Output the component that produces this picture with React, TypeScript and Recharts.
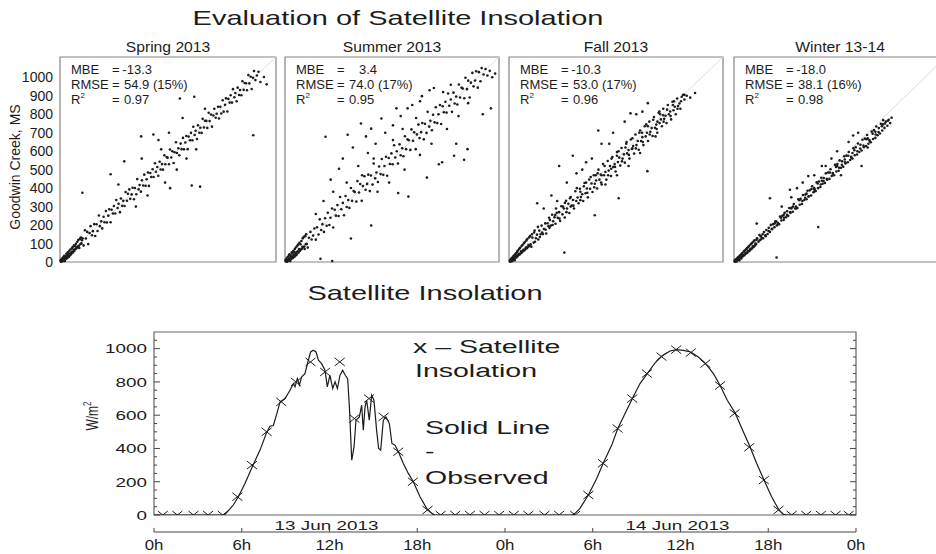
import React from 'react';
import {
  ScatterChart,
  Scatter,
  XAxis,
  YAxis,
  ReferenceArea,
  ReferenceLine,
  ComposedChart,
  Line,
} from 'recharts';

const FONT = '"Liberation Sans", Arial, Helvetica, sans-serif';
const INK = '#1c1c1c';
const STRETCH = 1.45;

type P = [number, number];

// ---- top row: satellite (x) vs Goodwin Creek ground (y), W/m2 ----
const panelTitles = ['Spring 2013', 'Summer 2013', 'Fall 2013', 'Winter 13-14'];
const mbeVals = ['-13.3', '3.4', '-10.3', '-18.0'];
const rmseVals = ['54.9 (15%)', '74.0 (17%)', '53.0 (17%)', '38.1 (16%)'];
const r2Vals = ['0.97', '0.95', '0.96', '0.98'];
const scatterTicks = [0, 100, 200, 300, 400, 500, 600, 700, 800, 900, 1000];

const springPts: P[] = [
  [3,9],[5,2],[7,14],[9,6],[11,3],[13,22],[14,11],[16,8],[18,27],[20,13],[22,34],[23,19],[25,6],[27,31],[29,24],[31,17],[33,45],[35,28],[36,40],[38,21],[40,52],[42,33],[44,47],[46,29],[48,60],[50,41],[52,37],[54,68],[56,49],[58,43],[61,74],[63,55],[65,81],[67,52],[70,66],[72,90],[74,61],[77,85],[79,70],[82,98],[84,73],[87,80],[89,110],[92,84],[94,119],[97,88],[99,76],[102,125],[105,97],[107,132],[110,101],[113,118],
  [116,128],[121,90],[128,172],[133,127],[140,163],[145,97],[152,157],[157,194],[164,145],[169,167],[176,205],[181,141],[188,204],[193,168],[200,252],[205,194],[212,220],[217,182],[224,245],[229,215],[236,276],[241,214],[248,251],[253,286],[260,215],[265,283],[272,263],[277,303],[284,263],[289,336],[296,292],[301,315],[308,270],[313,344],[320,304],[325,331],[332,303],[337,379],[344,332],[349,369],[356,393],[361,342],[368,366],[373,402],[380,340],[385,401],[392,367],[397,449],[404,393],[409,417],[416,381],[421,442],[428,414],[433,473],[440,413],[445,448],[452,485],[457,412],[464,482],[469,460],[476,502],[481,460],[488,535],[493,489],[500,514],[505,467],[512,543],[517,501],[524,530],[529,500],[536,578],[541,529],[548,568],[553,565],[560,529],[565,609],[572,566],[577,600],[584,536],[589,594],[596,648],[601,590],[608,616],[613,578],[620,641],[625,611],[632,672],[637,610],[644,647],[649,682],[656,611],[661,679],[668,659],[673,699],[680,659],[685,732],[692,688],[697,711],[704,666],[709,740],[716,700],[721,727],[728,699],[733,775],[740,728],[745,765],[752,764],[757,726],[764,808],[769,763],[776,799],[781,733],[788,793],[793,830],[800,781],[805,803],[812,841],[817,777],[824,840],[829,804],[836,876],[841,814],[848,851],[853,886],[860,815],[865,883],[872,863],[877,903],[884,863],[889,936],[896,892],[901,915],[908,870],[913,944],[920,904],[925,931],[932,903],[937,979],[944,932],[949,969],[956,968],[961,930],[968,1012],[973,967],[980,1003],[985,937],[992,997],[997,1034],[1004,985],[1012,1010],[1020,1030],[1030,975],[1048,1002],[1062,962],
  [115,375],[260,475],[330,545],[417,680],[480,690],[506,660],[566,400],[616,885],[677,414],[690,895],[720,408],[745,830],[993,686],[540,430],[600,500],[650,560],[390,300],[300,420],[420,560],[560,700],[630,780],[520,610],[450,360],[700,610],
];

const summerPts: P[] = [
  [3,10],[5,3],[7,18],[9,5],[11,2],[13,26],[15,12],[17,7],[19,33],[21,14],[23,42],[25,20],[27,5],[29,38],[31,27],[33,16],[35,52],[37,30],[39,46],[41,22],[43,60],[45,36],[47,55],[49,28],[51,70],[53,44],[55,35],[57,80],[59,52],[61,40],[64,88],[66,58],[68,95],[70,50],[73,70],[75,104],[77,60],[80,96],[82,68],[85,114],[87,70],[90,82],[92,128],[95,80],[97,136],[100,84],[102,70],[105,140],[108,96],[110,150],[113,98],
  [118,78],[124,131],[132,163],[138,122],[146,143],[152,181],[160,121],[166,188],[174,149],[180,231],[188,173],[194,205],[202,163],[208,237],[216,196],[222,267],[230,200],[236,240],[244,290],[250,187],[258,283],[264,251],[272,308],[278,249],[286,352],[292,286],[300,320],[306,253],[314,357],[320,298],[328,336],[334,293],[342,401],[348,331],[356,384],[362,379],[370,327],[376,438],[384,376],[390,422],[398,331],[404,411],[412,464],[418,391],[426,423],[432,473],[440,384],[446,468],[454,419],[460,533],[468,453],[474,485],[482,433],[488,517],[496,476],[502,558],[510,472],[516,520],[524,570],[530,467],[538,563],[544,531],[552,588],[558,529],[566,632],[572,566],[580,600],[586,533],[594,637],[600,578],[608,616],[614,573],[622,681],[628,611],[636,664],[642,659],[650,607],[656,718],[664,656],[670,702],[678,611],[684,691],[692,744],[698,671],[706,703],[712,753],[720,664],[726,748],[734,699],[740,813],[748,733],[754,765],[762,713],[768,797],[776,756],[782,838],[790,752],[796,800],[804,850],[810,747],[818,843],[824,811],[832,868],[838,809],[846,912],[852,846],[860,880],[866,813],[874,917],[880,858],[888,896],[894,853],[902,961],[908,891],[916,944],[922,939],[930,887],[936,998],[944,936],[950,982],[958,891],[964,971],[972,1024],[978,951],[986,983],[992,1033],[1000,944],[1006,1028],[1014,979],[1020,1050],[1030,1015],[1040,1045],[1050,1010],[1062,1035],[1075,1000],[1090,1020],
  [210,678],[237,446],[184,17],[245,5],[280,505],[300,560],[325,689],[342,127],[352,620],[394,750],[420,680],[447,722],[447,198],[500,777],[578,832],[587,373],[636,832],[640,354],[710,898],[736,457],[772,942],[798,529],[815,540],[877,575],[888,640],[929,553],[947,611],[1026,800],[1068,832],[380,520],[430,590],[470,640],[520,700],[560,740],[600,790],[660,850],[700,870],[750,930],[250,380],[200,330],[160,260],[480,380],[540,430],[620,500],[700,580],[760,640],[840,720],[900,790],[950,860],[560,660],[610,720],[680,780],[820,920],[860,960],[400,470],[460,560],[320,430],
];

const fallPts: P[] = [
  [4,7],[6,2],[8,13],[10,5],[12,19],[14,9],[16,4],[18,24],[20,14],[22,30],[24,12],[26,35],[28,20],[30,10],[32,41],[34,27],[36,47],[38,24],[40,33],[42,55],[44,31],[46,62],[48,38],[51,45],[53,71],[55,40],[58,77],[60,46],[63,58],[65,86],[67,52],[70,92],[72,58],[75,66],[77,101],[80,63],[82,108],[85,70],[88,78],[90,117],[93,75],[95,124],[98,82],[101,92],[104,133],[106,86],[109,140],[112,96],
  [116,83],[121,132],[128,105],[133,170],[140,129],[145,148],[152,122],[157,170],[164,150],[169,197],[176,151],[181,179],[188,209],[193,154],[200,210],[205,194],[212,228],[217,197],[224,256],[229,221],[236,242],[241,207],[248,267],[253,239],[260,270],[265,222],[272,302],[277,258],[284,290],[289,241],[296,331],[301,290],[308,315],[313,265],[320,352],[325,305],[332,336],[337,290],[344,383],[349,330],[356,349],[361,318],[368,397],[373,352],[380,367],[385,330],[392,428],[397,372],[404,398],[409,350],[416,447],[421,396],[428,425],[433,379],[440,470],[445,424],[452,441],[457,398],[464,500],[469,446],[476,474],[481,420],[488,530],[493,470],[500,487],[505,446],[512,547],[517,495],[524,520],[529,466],[536,568],[541,515],[548,531],[553,490],[560,595],[565,541],[572,565],[577,522],[584,617],[589,560],[596,583],[601,538],[608,640],[613,588],[620,606],[625,560],[632,663],[637,612],[644,628],[649,587],[656,690],[661,633],[668,655],[673,608],[680,712],[685,655],[692,676],[697,633],[704,735],[709,680],[716,700],[721,655],[728,760],[733,705],[740,725],[745,682],[752,785],[757,727],[764,744],[769,700],[776,808],[781,752],[788,772],[793,735],[800,830],[805,775],[812,792],[817,752],[824,850],[829,800],[836,815],[841,772],[848,868],[853,822],[860,841],[865,800],[872,885],[877,845],[884,858],[889,830],[896,895],[903,905],[910,880],[922,900],[940,890],[965,915],
  [119,150],[135,110],[150,190],[172,160],[190,175],[208,240],[226,200],[244,290],[262,235],[280,300],[298,270],[316,345],[334,305],[352,400],[370,335],[388,410],[406,375],[424,460],[442,405],[460,480],[478,430],[496,520],[514,470],[532,560],[550,515],[568,600],[586,545],[604,620],[622,580],[640,670],[658,615],[676,700],[694,650],[712,745],[730,690],[748,770],[766,720],[784,800],[802,760],[820,825],[838,790],[856,870],[874,830],[892,870],[910,905],[130,160],[210,185],[290,320],[370,380],[450,470],[530,505],[610,650],[690,700],[770,760],[850,850],[160,135],[240,255],[320,300],[400,430],[480,470],[560,575],[640,615],[720,735],[800,795],
  [146,318],[260,520],[287,51],[331,575],[445,253],[463,712],[569,345],[630,805],[692,814],[718,492],[780,814],[400,540],[480,640],[540,700],[600,760],[660,800],[300,430],[350,480],[220,360],[180,290],[720,860],[500,420],[560,470],[620,520],[680,590],[760,680],[380,500],[430,560],[520,640],[250,330],
];

const winterPts: P[] = [
  [3,6],[5,2],[7,11],[8,4],[10,15],[12,8],[14,3],[16,19],[18,11],[20,24],[22,13],[24,28],[26,17],[28,9],[30,33],[32,21],[34,38],[36,25],[38,19],[40,44],[42,29],[44,49],[46,31],[49,38],[51,56],[53,36],[56,62],[58,42],[61,50],[63,69],[65,47],[68,75],[70,52],[73,60],[75,82],[78,58],[80,88],[83,64],[86,72],[88,96],[91,70],[93,102],[96,76],[99,85],[101,110],[104,82],[107,117],[110,90],[113,100],
  [116,97],[121,128],[128,110],[133,146],[140,122],[145,131],[152,128],[157,162],[164,144],[169,173],[176,152],[181,168],[188,163],[193,201],[200,180],[205,205],[212,188],[217,220],[224,198],[229,212],[236,205],[241,246],[248,225],[253,250],[260,228],[265,266],[272,242],[277,255],[284,250],[289,292],[296,266],[301,294],[308,272],[313,314],[320,290],[325,300],[332,292],[337,340],[344,310],[349,342],[356,314],[361,363],[368,336],[373,348],[380,340],[385,386],[392,356],[397,388],[404,360],[409,410],[416,378],[421,394],[428,384],[433,432],[440,400],[445,436],[452,406],[457,456],[464,424],[469,438],[476,428],[481,480],[488,446],[493,484],[500,450],[505,502],[512,466],[517,482],[524,470],[529,526],[536,490],[541,530],[548,494],[553,550],[560,510],[565,526],[572,516],[577,572],[584,534],[589,576],[596,540],[601,596],[608,552],[613,570],[620,560],[625,616],[632,578],[637,622],[644,582],[649,642],[656,596],[661,614],[668,604],[673,662],[680,622],[685,668],[692,628],[697,688],[704,640],[709,660],[716,648],[721,706],[728,666],[733,714],[740,672],[745,734],[752,686],[757,704],[764,696],[769,748],[776,712],[781,768],[788,726],[795,760],[803,738],[810,770],[818,752],[825,781],
  [118,120],[134,118],[150,150],[166,140],[182,185],[198,178],[214,210],[230,205],[246,240],[262,240],[278,275],[294,270],[310,300],[326,290],[342,335],[358,330],[374,365],[390,355],[406,395],[422,385],[438,425],[454,420],[470,455],[486,450],[502,485],[518,478],[534,515],[550,510],[566,545],[582,540],[598,575],[614,565],[630,605],[646,600],[662,635],[678,630],[694,665],[710,655],[726,695],[742,690],[758,725],[774,735],[790,750],[806,765],[140,140],[220,220],[300,290],[380,370],[460,440],[540,520],[620,590],[700,670],[780,745],[260,255],[420,400],[580,555],[740,705],
  [119,208],[188,345],[223,24],[293,391],[389,465],[441,189],[624,685],[668,520],[330,400],[360,430],[420,470],[480,520],[540,600],[600,650],[650,700],[250,300],[300,350],[560,470],[700,620],[460,520],[510,560],
];

const panelPts = [springPts, summerPts, fallPts, winterPts];
const PANEL_X = [60, 285, 509, 734];
const PANEL_W = [216, 214, 214, 212];
const SC_MAX = 1110;

// ---- bottom: 13-14 Jun 2013, hours from 0h of 13 Jun ----
const observed: P[] = [
  [0,0],[4.8,0],[4.97,14],[5.42,60],[5.77,110],[6.22,190],[6.75,296],[7.25,390],[7.7,496],[7.93,534],[8.16,538],[8.39,606],[8.62,680],[8.96,700],[9.3,750],[9.53,790],[9.64,770],[9.8,820],[9.94,780],[10.1,830],[10.32,850],[10.55,930],[10.71,980],[10.89,990],[11.08,980],[11.24,930],[11.46,910],[11.69,870],[11.85,770],[12.03,840],[12.22,760],[12.38,800],[12.54,760],[12.72,840],[12.9,870],[13.08,840],[13.24,820],[13.36,650],[13.52,330],[13.68,410],[13.81,570],[14.04,590],[14.2,660],[14.31,510],[14.43,650],[14.54,690],[14.72,570],[14.88,720],[15.04,690],[15.22,510],[15.36,400],[15.5,390],[15.68,570],[15.86,590],[16.09,550],[16.27,430],[16.48,420],[16.71,380],[17.05,310],[17.39,250],[17.73,200],[18.19,110],[18.64,40],[18.99,10],[19.21,0],
  [28.6,0],[28.79,10],[29.13,40],[29.7,120],[30.27,220],[30.73,314],[31.3,420],[31.71,520],[32.21,610],[32.71,700],[33.23,790],[33.73,850],[34.26,914],[34.71,954],[35.28,986],[35.74,994],[36.19,990],[36.7,980],[37.22,950],[37.72,910],[38.25,850],[38.7,780],[39.2,690],[39.73,614],[40.25,510],[40.75,410],[41.21,310],[41.71,210],[42.23,110],[42.73,30],[43.03,4],[43.26,0],[48,0],
];

const satellite: P[] = [
  [0.6,0],[1.6,0],[2.7,0],[3.7,0],[4.7,0],[5.7,110],[6.7,300],[7.7,500],[8.7,680],[9.7,800],[10.7,920],[11.7,860],[12.7,920],[13.7,580],[14.7,700],[15.7,590],[16.7,380],[17.7,200],[18.7,30],[19.6,0],[20.6,0],[21.6,0],[22.6,0],[23.6,0],
  [24.6,0],[25.6,0],[26.7,0],[27.7,0],[28.8,0],[29.7,120],[30.7,311],[31.7,520],[32.7,700],[33.7,850],[34.7,952],[35.7,994],[36.7,976],[37.7,910],[38.7,778],[39.7,611],[40.7,407],[41.7,210],[42.7,30],[43.6,0],[44.6,0],[45.6,0],[46.6,0],[47.5,0],
];

const yTicksLine = [0,50,100,150,200,250,300,350,400,450,500,550,600,650,700,750,800,850,900,950,1000,1050];
const timeTicks = [0, 6, 12, 18, 24, 30, 36, 42, 48];
const dateTicks = [12, 36];
const dateLabels = ['13 Jun 2013', '14 Jun 2013'];

const PLOT_W = 702;

const Dot = (p: any) => <circle cx={p.cx} cy={p.cy} r={1.3} fill={INK} />;

function ScatterPanel({ i }: { i: number }) {
  const first = i === 0;
  const axisW = first ? 60 : 0;
  const mLeft = first ? 0 : 1;
  const data = panelPts[i].map(([x, y]) => ({ x, y }));
  return (
    <div style={{ position: 'absolute', left: PANEL_X[i] - axisW - mLeft, top: 56 }}>
      <ScatterChart
        width={axisW + mLeft + PANEL_W[i] + 1}
        height={214}
        margin={{ top: 1, right: 1, bottom: 8, left: mLeft }}
      >
        <XAxis type="number" dataKey="x" domain={[0, SC_MAX]} hide />
        <YAxis
          type="number"
          dataKey="y"
          domain={[0, SC_MAX]}
          ticks={scatterTicks}
          interval={0}
          hide={!first}
          width={axisW}
          tickLine={false}
          axisLine={false}
          tickSize={0}
          tickMargin={7}
          tick={{ fontSize: 14, fill: INK, fontFamily: FONT }}
        />
        <ReferenceLine segment={[{ x: 0, y: 0 }, { x: SC_MAX, y: SC_MAX }]} stroke="#dcdcdc" />
        <ReferenceArea x1={0} x2={SC_MAX} y1={0} y2={SC_MAX} fill="none" stroke="#858585" strokeWidth={1.2} />
        <Scatter data={data} fill={INK} shape={Dot} isAnimationActive={false} />
      </ScatterChart>
    </div>
  );
}

const YTick = (p: any) => {
  const v = p.payload.value;
  const major = v % 200 === 0;
  const len = major ? 6 : 3;
  return (
    <g>
      <line x1={p.x} x2={p.x + len} y1={p.y} y2={p.y} stroke="#444" />
      <line x1={p.x + PLOT_W} x2={p.x + PLOT_W - len} y1={p.y} y2={p.y} stroke="#444" />
      {major && (
        <text
          transform={`translate(${p.x - 7},${p.y}) scale(${STRETCH},1)`}
          textAnchor="end"
          dominantBaseline="central"
          fontSize={13}
          fill={INK}
          fontFamily={FONT}
        >
          {v}
        </text>
      )}
    </g>
  );
};

const TimeTick = (p: any) => (
  <g>
    <line x1={p.x} x2={p.x} y1={p.y} y2={p.y - 4} stroke="#444" />
    <text
      transform={`translate(${p.x},${p.y + 18}) scale(1.2,1)`}
      textAnchor="middle"
      fontSize={14}
      fill={INK}
      fontFamily={FONT}
    >
      {`${p.payload.value % 24}h`}
    </text>
  </g>
);

const DateTick = (p: any) => (
  <text
    transform={`translate(${p.x - 3},${p.y + 15}) scale(${STRETCH},1)`}
    textAnchor="middle"
    fontSize={13}
    fill={INK}
    fontFamily={FONT}
  >
    {dateLabels[dateTicks.indexOf(p.payload.value)]}
  </text>
);

const XMark = (p: any) => {
  const { cx, cy } = p;
  const v = p.payload ? p.payload.v : p.v;
  const w = 5;
  const h = 4;
  const d =
    v === 0
      ? `M${cx - w},${cy - h}L${cx},${cy}L${cx + w},${cy - h}`
      : `M${cx - w},${cy - h}L${cx + w},${cy + h}M${cx - w},${cy + h}L${cx + w},${cy - h}`;
  return <path d={d} stroke={INK} strokeWidth={1} fill="none" />;
};

function Txt({ x, y, size, anchor = 'start', sx = 1, children }: any) {
  return (
    <text
      transform={`translate(${x},${y}) scale(${sx},1)`}
      fontSize={size}
      textAnchor={anchor}
      fill={INK}
      fontFamily={FONT}
    >
      {children}
    </text>
  );
}

export default function App() {
  const obsData = observed.map(([h, v]) => ({ h, v }));
  const satData = satellite.map(([h, v]) => ({ h, v }));

  return (
    <div
      style={{
        position: 'absolute',
        left: 0,
        top: 0,
        width: 936,
        height: 554,
        overflow: 'hidden',
        background: '#fff',
        fontFamily: FONT,
      }}
    >
      {[0, 1, 2, 3].map((i) => (
        <ScatterPanel key={i} i={i} />
      ))}

      <div style={{ position: 'absolute', left: 0, top: 320 }}>
        <ComposedChart width={870} height={234} margin={{ top: 12, right: 14, bottom: 0, left: 0 }}>
          <XAxis
            xAxisId="date"
            type="number"
            dataKey="h"
            domain={[0, 48]}
            allowDataOverflow
            ticks={dateTicks}
            interval={0}
            tick={DateTick}
            tickLine={false}
            axisLine={false}
            tickSize={0}
            tickMargin={0}
            height={17}
          />
          <XAxis
            xAxisId="time"
            type="number"
            dataKey="h"
            domain={[0, 48]}
            allowDataOverflow
            ticks={timeTicks}
            interval={0}
            tick={TimeTick}
            tickLine={false}
            axisLine={{ stroke: '#444' }}
            tickSize={0}
            tickMargin={0}
            height={22}
          />
          <YAxis
            yAxisId="y"
            type="number"
            dataKey="v"
            domain={[0, 1100]}
            allowDataOverflow
            ticks={yTicksLine}
            interval={0}
            tick={YTick}
            tickLine={false}
            axisLine={false}
            tickSize={0}
            tickMargin={0}
            width={154}
          />
          <ReferenceArea
            xAxisId="time"
            yAxisId="y"
            x1={0}
            x2={48}
            y1={0}
            y2={1100}
            fill="none"
            stroke="#666"
            strokeWidth={1.2}
          />
          <Line
            xAxisId="time"
            yAxisId="y"
            data={obsData}
            dataKey="v"
            type="linear"
            stroke={INK}
            strokeWidth={1.2}
            dot={false}
            isAnimationActive={false}
          />
          <Scatter
            xAxisId="time"
            yAxisId="y"
            data={satData}
            dataKey="v"
            shape={XMark}
            isAnimationActive={false}
          />
        </ComposedChart>
      </div>

      <svg
        width={936}
        height={554}
        style={{ position: 'absolute', left: 0, top: 0, pointerEvents: 'none' }}
      >
        <Txt x={398} y={25} size={20} anchor="middle" sx={STRETCH}>
          Evaluation of Satellite Insolation
        </Txt>
        {panelTitles.map((t, i) => (
          <Txt key={t} x={PANEL_X[i] + PANEL_W[i] / 2} y={51.5} size={14} anchor="middle" sx={1.12}>
            {t}
          </Txt>
        ))}
        {PANEL_X.map((px, i) => (
          <g key={px}>
            <Txt x={px + 11} y={73.5} size={13}>MBE</Txt>
            <Txt x={px + 52} y={73.5} size={13}>=</Txt>
            <Txt x={px + 92} y={73.5} size={13} anchor="end">{mbeVals[i]}</Txt>
            <Txt x={px + 11} y={88.5} size={13}>RMSE</Txt>
            <Txt x={px + 52} y={88.5} size={13}>=</Txt>
            <Txt x={px + 64} y={88.5} size={13}>{rmseVals[i]}</Txt>
            <Txt x={px + 11} y={103.5} size={13}>
              R<tspan dy={-6} fontSize={8}>2</tspan>
            </Txt>
            <Txt x={px + 52} y={103.5} size={13}>=</Txt>
            <Txt x={px + 64} y={103.5} size={13}>{r2Vals[i]}</Txt>
          </g>
        ))}
        <text
          transform="translate(20,167) rotate(-90)"
          fontSize={14}
          textAnchor="middle"
          fill={INK}
          fontFamily={FONT}
        >
          Goodwin Creek, MS
        </text>

        <Txt x={425} y={300} size={20} anchor="middle" sx={STRETCH}>
          Satellite Insolation
        </Txt>
        <text
          transform={`translate(98,416) scale(${STRETCH},1) rotate(-90)`}
          fontSize={12}
          textAnchor="middle"
          fill={INK}
          fontFamily={FONT}
        >
          W/m<tspan dy={-5} fontSize={8}>2</tspan>
        </text>
        <Txt x={413} y={353} size={19} sx={1.5}>x – Satellite</Txt>
        <Txt x={415} y={377} size={19} sx={1.5}>Insolation</Txt>
        <Txt x={425} y={434} size={19} sx={1.5}>Solid Line</Txt>
        <Txt x={425} y={458} size={19} sx={1.5}>-</Txt>
        <Txt x={425} y={484} size={19} sx={1.5}>Observed</Txt>
      </svg>
    </div>
  );
}
